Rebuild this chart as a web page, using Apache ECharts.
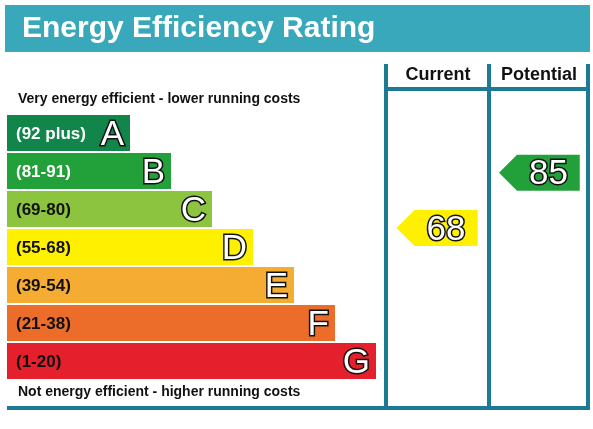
<!DOCTYPE html><html><head><meta charset="utf-8"><script src="https://cdn.jsdelivr.net/npm/echarts@6/dist/echarts.min.js"></script>
<style>html,body{margin:0;padding:0;background:#fff}#c{width:593px;height:429px}</style></head><body><div id="c"></div><script>
var bands=['(92 plus)','(81-91)','(69-80)','(55-68)','(39-54)','(21-38)','(1-20)'];
var letters=['A','B','C','D','E','F','G'];
var bandLength=[3,4,5,6,7,8,9];
var bandColors=['#12854a','#22a03a','#8cc43f','#fff000','#f4ac33','#ec6d2a','#e3202c'];
var bandTextColors=['#fff','#fff','#111','#111','#111','#111','#111'];
var bandMin=[92,81,69,55,39,21,1], bandMax=[100,91,80,68,54,38,20];
var currentRating=68, potentialRating=85;
function band(r){for(var i=0;i<7;i++)if(r>=bandMin[i])return i;return 6;}
function rowPos(r){var i=band(r);var span=(i==0?9:bandMax[i]-bandMin[i]+1);return i+(bandMax[i]-r)/span;}
var TEAL='#1c7a95';
var ch=echarts.init(document.getElementById('c'));
function arrow(x0,x1,r){return {x0:x0,x1:x1,y:rowPos(r),r:r,c:bandColors[band(r)]};}
var arrows=[arrow(9.5,11.48,currentRating),arrow(12,13.97,potentialRating)];
ch.setOption({animation:false,
grid:{left:7,top:114,width:574,height:266},
xAxis:{type:'value',min:0,max:14,show:false},
yAxis:[{type:'category',data:letters,inverse:true,show:false},{type:'value',min:0,max:7,inverse:true,show:false}],
series:[{type:'bar',barWidth:36,data:bandLength.map(function(v,i){return {value:v,itemStyle:{color:bandColors[i]},label:{color:bandTextColors[i]}};}),
 label:{show:true,position:'insideLeft',offset:[4,1],fontFamily:'Liberation Sans',fontWeight:'bold',fontSize:17,formatter:function(p){return bands[p.dataIndex];}}},
{type:'bar',barWidth:36,barGap:'-100%',data:bandLength,itemStyle:{color:'rgba(0,0,0,0)'},
 label:{show:true,position:'insideRight',offset:[-1,2],fontFamily:'Liberation Sans',fontSize:35,color:'#fff',textBorderColor:'#111',textBorderWidth:3,formatter:function(p){return letters[p.dataIndex];}}},
{type:'custom',yAxisIndex:1,data:arrows.map(function(a,i){return [i];}),renderItem:function(params,api){
 var a=arrows[api.value(0)];var p0=api.coord([a.x0,a.y]),p1=api.coord([a.x1,a.y]);var h=18;var tip=h;
 return {type:'group',children:[{type:'polygon',shape:{points:[[p0[0],p0[1]],[p0[0]+tip,p0[1]-h],[p1[0],p1[1]-h],[p1[0],p1[1]+h],[p0[0]+tip,p0[1]+h]]},style:{fill:a.c}},
 {type:'text',style:{text:String(a.r),x:(p0[0]+tip+p1[0])/2,y:p0[1]+2,align:'center',verticalAlign:'middle',fontFamily:'Liberation Sans',fontSize:35,fill:'#fff',stroke:'#111',lineWidth:3}}]};}}],
graphic:[
{type:'rect',shape:{x:5,y:5,width:585,height:47},style:{fill:'#3aa8bb'}},
{type:'text',style:{text:'Energy Efficiency Rating',x:22,y:29,verticalAlign:'middle',fontFamily:'Liberation Sans',fontWeight:'bold',fontSize:30,fill:'#fff'}},
{type:'text',style:{text:'Very energy efficient - lower running costs',x:18,y:99,verticalAlign:'middle',fontFamily:'Liberation Sans',fontWeight:'bold',fontSize:14,fill:'#111'}},
{type:'text',style:{text:'Not energy efficient - higher running costs',x:18,y:392,verticalAlign:'middle',fontFamily:'Liberation Sans',fontWeight:'bold',fontSize:14,fill:'#111'}},
{type:'text',style:{text:'Current',x:438,y:75,align:'center',verticalAlign:'middle',fontFamily:'Liberation Sans',fontWeight:'bold',fontSize:18,fill:'#111'}},
{type:'text',style:{text:'Potential',x:539,y:75,align:'center',verticalAlign:'middle',fontFamily:'Liberation Sans',fontWeight:'bold',fontSize:18,fill:'#111'}},
{type:'rect',shape:{x:384,y:64,width:4,height:345},style:{fill:TEAL}},
{type:'rect',shape:{x:487,y:64,width:4,height:345},style:{fill:TEAL}},
{type:'rect',shape:{x:586,y:64,width:4,height:345},style:{fill:TEAL}},
{type:'rect',shape:{x:384,y:87,width:206,height:4},style:{fill:TEAL}},
{type:'rect',shape:{x:7,y:406,width:583,height:4},style:{fill:TEAL}}
]});
</script></body></html>
